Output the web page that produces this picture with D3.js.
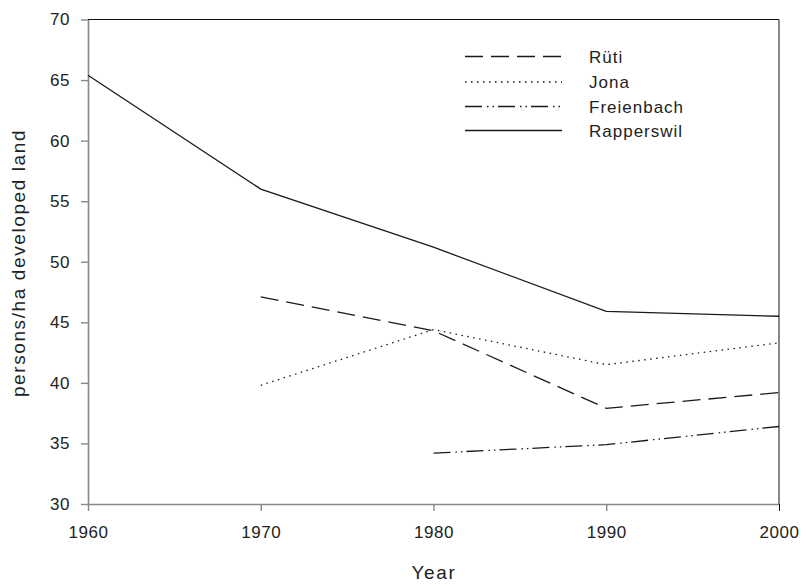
<!DOCTYPE html>
<html>
<head>
<meta charset="utf-8">
<script src="https://cdn.jsdelivr.net/npm/d3@7"></script>
<style>
  html, body { margin: 0; padding: 0; background: #fff; }
  text { font-family: "Liberation Sans", Arial, sans-serif; fill: #222; }
</style>
</head>
<body>
<svg id="chart" width="806" height="588"></svg>
<script>
// Population density (persons per ha of developed land) by census year
const years = [1960, 1970, 1980, 1990, 2000];
const seriesNames = ["Rüti", "Jona", "Freienbach", "Rapperswil"];
const rueti      = [null, 47.1, 44.3, 37.9, 39.2];
const jona       = [null, 39.8, 44.4, 41.5, 43.3];
const freienbach = [null, null, 34.2, 34.9, 36.4];
const rapperswil = [65.4, 56.0, 51.2, 45.9, 45.5];
const xTicks = [1960, 1970, 1980, 1990, 2000];
const yTicks = [30, 35, 40, 45, 50, 55, 60, 65, 70];

const dashes = {
  "Rüti": "18,8",
  "Jona": "1.5,4.5",
  "Freienbach": "17,5,1.5,4,1.5,4",
  "Rapperswil": null
};

const series = [
  { name: "Rüti", values: rueti },
  { name: "Jona", values: jona },
  { name: "Freienbach", values: freienbach },
  { name: "Rapperswil", values: rapperswil }
];

const svg = d3.select("#chart");
const plotL = 88, plotR = 779, plotT = 19.5, plotB = 504;

const x = d3.scaleLinear().domain([1960, 2000]).range([plotL, plotR]);
const y = d3.scaleLinear().domain([30, 70]).range([plotB, plotT]);

// frame: top and right edges
svg.append("line").attr("x1", plotL).attr("x2", plotR).attr("y1", plotT).attr("y2", plotT)
  .attr("stroke", "#111").attr("stroke-width", 1);
svg.append("line").attr("x1", plotR).attr("x2", plotR).attr("y1", plotT).attr("y2", plotB)
  .attr("stroke", "#111").attr("stroke-width", 1);

// axes
const xAxis = svg.append("g").attr("transform", `translate(0,${plotB})`)
  .call(d3.axisBottom(x).tickValues(xTicks).tickFormat(d3.format("d")).tickSize(7).tickSizeOuter(0).tickPadding(15));
const yAxis = svg.append("g").attr("transform", `translate(${plotL},0)`)
  .call(d3.axisLeft(y).tickValues(yTicks).tickSize(7).tickSizeOuter(0).tickPadding(11));

[xAxis, yAxis].forEach(g => {
  g.select(".domain").attr("stroke", "#888").attr("stroke-width", 1.6);
  g.selectAll(".tick line").attr("stroke", "#888").attr("stroke-width", 1.4);
  g.selectAll(".tick text")
    .attr("fill", "#222")
    .style("font-family", "'Liberation Sans', Arial, sans-serif")
    .style("font-size", "17px")
    .style("letter-spacing", "0.6px");
});
// 2000 tick continues the right frame in black
xAxis.selectAll(".tick").filter(d => d === 2000).select("line").attr("stroke", "#111").attr("stroke-width", 1);

// lines
const line = d3.line()
  .defined(d => d.v != null)
  .x(d => x(d.year))
  .y(d => y(d.v));

svg.append("g").selectAll("path")
  .data(series)
  .join("path")
  .attr("d", s => line(years.map((yr, i) => ({ year: yr, v: s.values[i] }))))
  .attr("fill", "none")
  .attr("stroke", "#1a1a1a")
  .attr("stroke-width", 1.3)
  .attr("stroke-dasharray", s => dashes[s.name]);

// legend
const legend = svg.append("g");
const rowY = [56.5, 82, 106.5, 130.5];
seriesNames.forEach((name, i) => {
  legend.append("line")
    .attr("x1", 465).attr("x2", 562)
    .attr("y1", rowY[i]).attr("y2", rowY[i])
    .attr("stroke", "#1a1a1a").attr("stroke-width", 1.3)
    .attr("stroke-dasharray", dashes[name]);
  legend.append("text")
    .attr("x", 589).attr("y", rowY[i] + 6)
    .style("font-size", "17px").style("letter-spacing", "1px")
    .text(name);
});

// axis titles
svg.append("text")
  .attr("x", 434).attr("y", 579)
  .attr("text-anchor", "middle")
  .style("font-size", "19px").style("letter-spacing", "1.6px")
  .text("Year");
svg.append("text")
  .attr("transform", "translate(25,263) rotate(-90)")
  .attr("text-anchor", "middle")
  .style("font-size", "19px").style("letter-spacing", "1.6px")
  .text("persons/ha developed land");
</script>
</body>
</html>
